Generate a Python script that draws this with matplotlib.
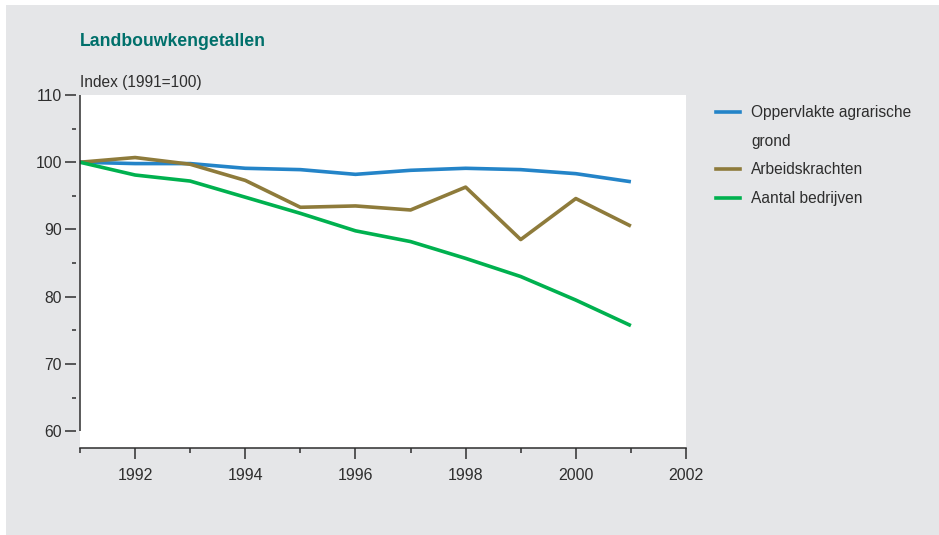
import matplotlib
matplotlib.use('Agg')
import matplotlib.pyplot as plt
from matplotlib.lines import Line2D
from matplotlib.patches import Rectangle
from matplotlib.ticker import MultipleLocator

plt.rcParams['font.family'] = ['Liberation Sans', 'DejaVu Sans']

# data (index, 1991 = 100)
years = list(range(1991, 2002))
oppervlakte = [100, 99.8, 99.8, 99.1, 98.9, 98.2, 98.8, 99.1, 98.9, 98.3, 97.1]
arbeidskrachten = [100, 100.7, 99.7, 97.3, 93.3, 93.5, 92.9, 96.3, 88.5, 94.6, 90.5]
bedrijven = [100, 98.1, 97.2, 94.8, 92.4, 89.8, 88.2, 85.7, 83.0, 79.5, 75.7]
series_names = ['Oppervlakte agrarische\ngrond', 'Arbeidskrachten', 'Aantal bedrijven']
colors = ['#2484c8', '#8e7b3b', '#00b14f']

bg = '#e5e6e8'
ink = '#2e2e2e'
W, H = 939, 535

fig = plt.figure(figsize=(W / 100, H / 100), dpi=100, facecolor='white')
fig.patches.append(Rectangle((6 / W, 0), 1, 1 - 5 / H, transform=fig.transFigure,
                             facecolor=bg, edgecolor='none', zorder=-1))

ax = fig.add_axes([80 / W, 87 / H, 606 / W, 353 / H])
ax.set_facecolor('white')

for vals, c in zip([oppervlakte, arbeidskrachten, bedrijven], colors):
    ax.plot(years, vals, color=c, lw=2.6, solid_capstyle='butt')

ax.set_xlim(1991, 2002)
ax.set_ylim(57.5, 110)
ax.xaxis.set_major_locator(MultipleLocator(2))
ax.xaxis.set_minor_locator(MultipleLocator(1))
ax.yaxis.set_major_locator(MultipleLocator(10))
ax.yaxis.set_minor_locator(MultipleLocator(5))

for s in ['top', 'right']:
    ax.spines[s].set_visible(False)
ax.spines['bottom'].set_color(ink)
ax.spines['bottom'].set_linewidth(1.1)
# ticks sit a little away from the y axis line
ax.spines['left'].set_position(('outward', 3))
ax.spines['left'].set_color('none')
yt = [t for t in ax.get_yticks() if 57.5 <= t <= 110]
ax.vlines(ax.get_xlim()[0], yt[0], yt[-1], color=ink, lw=1.1, clip_on=False, zorder=3)

ax.tick_params(axis='x', which='major', length=8, width=1.1, pad=6.5, colors=ink, labelsize=11.5)
ax.tick_params(axis='x', which='minor', length=3.5, width=1.1, colors=ink)
ax.tick_params(axis='y', which='major', length=8, width=1.1, pad=2, colors=ink, labelsize=11.3)
ax.tick_params(axis='y', which='minor', length=3, width=1.1, colors=ink)

fig.text(80 / W, 1 - 41 / H, 'Landbouwkengetallen', fontsize=12.7, fontweight='bold',
         color='#00706b', ha='left', va='center')
fig.text(80 / W, 1 - 82 / H, 'Index (1991=100)', fontsize=11.2, color=ink,
         ha='left', va='center')

# legend: first label wraps onto a second row without a line marker
first, second = series_names[0].split('\n')
handles = [Line2D([], [], color=colors[0], lw=2.6),
           Line2D([], [], color='none'),
           Line2D([], [], color=colors[1], lw=2.6),
           Line2D([], [], color=colors[2], lw=2.6)]
labels = [first, second, series_names[1], series_names[2]]
fig.legend(handles, labels, loc='upper left', bbox_to_anchor=(716 / W, 1 - 105 / H),
           frameon=False, fontsize=11.2, handlelength=1.55, handletextpad=0.7,
           labelspacing=0.88, borderpad=0, borderaxespad=0, labelcolor=ink)

fig.savefig('out.png', dpi=100, facecolor=fig.get_facecolor())
